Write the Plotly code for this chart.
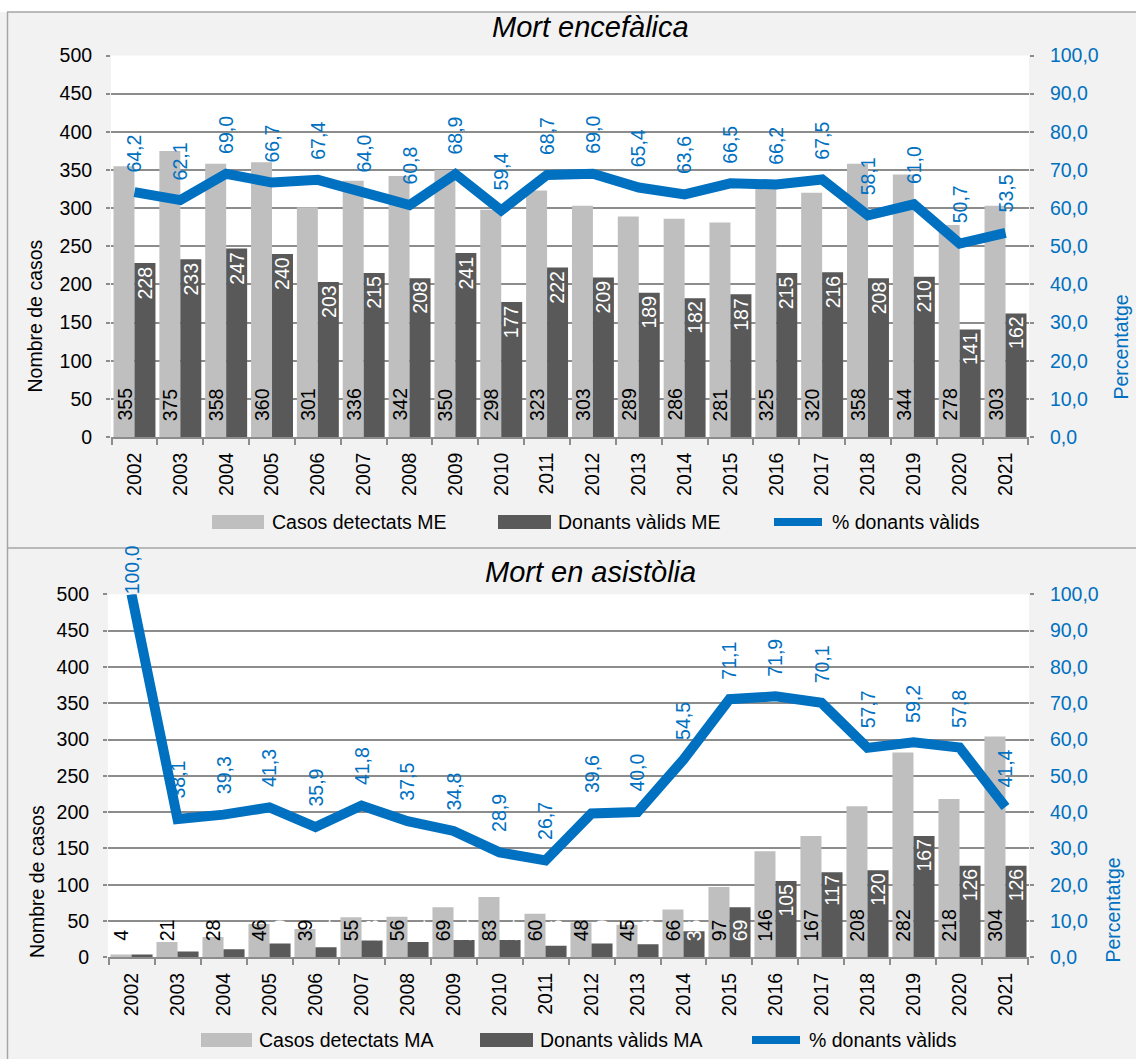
import plotly.graph_objects as go

# ---------------- data ----------------
years = [str(y) for y in range(2002, 2022)]

me_cases = [355, 375, 358, 360, 301, 336, 342, 350, 298, 323, 303, 289, 286, 281, 325, 320, 358, 344, 278, 303]
me_donors = [228, 233, 247, 240, 203, 215, 208, 241, 177, 222, 209, 189, 182, 187, 215, 216, 208, 210, 141, 162]
me_pct = [64.2, 62.1, 69.0, 66.7, 67.4, 64.0, 60.8, 68.9, 59.4, 68.7, 69.0, 65.4, 63.6, 66.5, 66.2, 67.5, 58.1, 61.0, 50.7, 53.5]

ma_cases = [4, 21, 28, 46, 39, 55, 56, 69, 83, 60, 48, 45, 66, 97, 146, 167, 208, 282, 218, 304]
ma_donors = [4, 8, 11, 19, 14, 23, 21, 24, 24, 16, 19, 18, 36, 69, 105, 117, 120, 167, 126, 126]
ma_pct = [100.0, 38.1, 39.3, 41.3, 35.9, 41.8, 37.5, 34.8, 28.9, 26.7, 39.6, 40.0, 54.5, 71.1, 71.9, 70.1, 57.7, 59.2, 57.8, 41.4]

left_ticks = [0, 50, 100, 150, 200, 250, 300, 350, 400, 450, 500]
right_ticks = [0, 10, 20, 30, 40, 50, 60, 70, 80, 90, 100]
right_ticktext = [f"{v:.1f}".replace(".", ",") for v in right_ticks]

titles = ["Mort encefàlica", "Mort en asistòlia"]
legend_names = [["Casos detectats ME", "Donants vàlids ME", "% donants vàlids"],
                ["Casos detectats MA", "Donants vàlids MA", "% donants vàlids"]]

# ---------------- style / layout helpers ----------------
W, H = 1136, 1059


def px(x):
    return x / W


def py(y):
    return 1 - y / H


LIGHT = "#bfbfbf"
DARK = "#595959"
BLUE = "#0070c0"
GRID = "#8c8c8c"
BG = "#f2f2f2"
FONT = "Liberation Sans, Arial, sans-serif"
FS = 19.5
BARGAP = 0.085

panels = [
    dict(cases=me_cases, donors=me_donors, pct=me_pct, xa="x", ya="y", ya2="y2",
         xdom=(111, 1029), ydom=(55.5, 437), title_y=27, leg_y=522,
         leg=[(212, 264, 270), (498, 551, 556), (770, 826, 830)],
         ltitle=(35, 395), rtitle=(1120, 402)),
    dict(cases=ma_cases, donors=ma_donors, pct=ma_pct, xa="x2", ya="y3", ya2="y4",
         xdom=(108, 1029), ydom=(594.3, 957.3), title_y=572, leg_y=1040,
         leg=[(201, 252, 257), (480, 533, 538), (748, 804, 807)],
         ltitle=(36.5, 960), rtitle=(1112, 965)),
]

fig = go.Figure()
annotations = []
shapes = []

# background strip at top and panel borders
shapes.append(dict(type="rect", xref="paper", yref="paper", x0=0, x1=1, y0=py(12), y1=1,
                   fillcolor="white", line=dict(width=0), layer="below"))
for yy in (12, 548):
    shapes.append(dict(type="line", xref="paper", yref="paper", x0=px(7), x1=1, y0=py(yy), y1=py(yy),
                       line=dict(color="#a6a6a6", width=1.5)))
shapes.append(dict(type="line", xref="paper", yref="paper", x0=px(7.5), x1=px(7.5), y0=0, y1=py(12),
                   line=dict(color="#a6a6a6", width=1.5)))

for k, p in enumerate(panels):
    xa, ya, ya2 = p["xa"], p["ya"], p["ya2"]
    fig.add_trace(go.Bar(x=years, y=p["cases"], name=legend_names[k][0], marker_color=LIGHT,
                         marker_line_width=0, xaxis=xa, yaxis=ya, showlegend=False))
    fig.add_trace(go.Bar(x=years, y=p["donors"], name=legend_names[k][1], marker_color=DARK,
                         marker_line_width=0, xaxis=xa, yaxis=ya, showlegend=False))
    fig.add_trace(go.Scatter(x=years, y=p["pct"], name=legend_names[k][2], mode="lines",
                             line=dict(color=BLUE, width=10), xaxis=xa, yaxis=ya2,
                             showlegend=False))

    plot_h = p["ydom"][1] - p["ydom"][0]
    ppu = plot_h / 500.0
    off = (1 - BARGAP) / 4.0

    # bar labels
    for i, (c, d) in enumerate(zip(p["cases"], p["donors"])):
        annotations.append(dict(x=i - off, y=0, xref=xa, yref=ya, text=str(c), showarrow=False,
                                textangle=-90, yanchor="bottom", xanchor="center", yshift=14,
                                font=dict(family=FONT, size=FS, color="black")))
        if d * ppu > 55:
            annotations.append(dict(x=i + off, y=d, xref=xa, yref=ya, text=str(d), showarrow=False,
                                    textangle=-90, yanchor="top", xanchor="center", yshift=-1,
                                    font=dict(family=FONT, size=FS, color="white")))
        else:
            annotations.append(dict(x=i + off, y=0, xref=xa, yref=ya, text=str(d), showarrow=False,
                                    textangle=-90, yanchor="bottom", xanchor="center", yshift=14,
                                    font=dict(family=FONT, size=FS, color="white")))
    # line labels
    for i, v in enumerate(p["pct"]):
        annotations.append(dict(x=i, y=v, xref=xa, yref=ya2, text=f"{v:.1f}".replace(".", ","),
                                showarrow=False, textangle=-90, yanchor="bottom", xanchor="center",
                                yshift=(18 if v < 90 else -2),
                                font=dict(family=FONT, size=FS, color=BLUE)))

    # titles
    annotations.append(dict(x=px(590), y=py(p["title_y"]), xref="paper", yref="paper",
                            text=f"<i>{titles[k]}</i>", showarrow=False, xanchor="center",
                            yanchor="middle", font=dict(family=FONT, size=29, color="black")))
    annotations.append(dict(x=px(p["ltitle"][0]), y=py(p["ltitle"][1]), xref="paper", yref="paper",
                            text="Nombre de casos", showarrow=False, textangle=-90,
                            xanchor="center", yanchor="bottom",
                            font=dict(family=FONT, size=FS, color="black")))
    annotations.append(dict(x=px(p["rtitle"][0]), y=py(p["rtitle"][1]), xref="paper", yref="paper",
                            text="Percentatge", showarrow=False, textangle=-90,
                            xanchor="center", yanchor="bottom",
                            font=dict(family=FONT, size=FS, color=BLUE)))

    # manual legend
    ly = p["leg_y"]
    (a0, a1, at), (b0, b1, bt), (c0, c1, ct) = p["leg"]
    shapes.append(dict(type="rect", xref="paper", yref="paper", x0=px(a0), x1=px(a1),
                       y0=py(ly + 7), y1=py(ly - 7), fillcolor=LIGHT, line=dict(width=0)))
    shapes.append(dict(type="rect", xref="paper", yref="paper", x0=px(b0), x1=px(b1),
                       y0=py(ly + 7), y1=py(ly - 7), fillcolor=DARK, line=dict(width=0)))
    shapes.append(dict(type="line", xref="paper", yref="paper", x0=px(c0 + 4), x1=px(c1 - 4),
                       y0=py(ly), y1=py(ly), line=dict(color=BLUE, width=8)))
    for (t0, name) in zip((at, bt, ct), legend_names[k]):
        annotations.append(dict(x=px(t0), y=py(ly), xref="paper", yref="paper", text=name,
                                showarrow=False, xanchor="left", yanchor="middle",
                                font=dict(family=FONT, size=FS, color="black")))

xaxis_common = dict(type="category", showgrid=False, showline=True, linecolor=GRID, linewidth=1.5,
                    ticks="outside", tickson="boundaries", ticklen=6, tickcolor=GRID, tickwidth=1.5,
                    tickangle=-90, tickfont=dict(family=FONT, size=FS, color="black"),
                    ticklabelstandoff=6, automargin=False, zeroline=False, fixedrange=True)
yleft_common = dict(range=[0, 500], tickvals=left_ticks, showgrid=True, gridcolor=GRID, gridwidth=2,
                    ticks="outside", ticklen=4, tickcolor=GRID, tickwidth=1.5, showline=False,
                    zeroline=False, tickfont=dict(family=FONT, size=FS, color="black"),
                    ticklabelstandoff=10, automargin=False, fixedrange=True)
yright_common = dict(range=[0, 100], tickvals=right_ticks, ticktext=right_ticktext, showgrid=False,
                     side="right", ticks="outside", ticklen=4, tickcolor=GRID, tickwidth=1.5,
                     showline=False, zeroline=False, tickfont=dict(family=FONT, size=FS, color=BLUE),
                     ticklabelstandoff=12, automargin=False, fixedrange=True)

p0, p1 = panels
fig.update_layout(
    width=W, height=H,
    margin=dict(l=0, r=0, t=0, b=0, pad=0),
    paper_bgcolor=BG, plot_bgcolor="white",
    barmode="group", bargap=BARGAP, bargroupgap=0,
    font=dict(family=FONT, size=FS, color="black"),
    showlegend=False,
    xaxis=dict(domain=[px(p0["xdom"][0]), px(p0["xdom"][1])], anchor="y", **xaxis_common),
    yaxis=dict(domain=[py(p0["ydom"][1]), py(p0["ydom"][0])], anchor="x", **yleft_common),
    yaxis2=dict(domain=[py(p0["ydom"][1]), py(p0["ydom"][0])], anchor="x", overlaying="y",
                **yright_common),
    xaxis2=dict(domain=[px(p1["xdom"][0]), px(p1["xdom"][1])], anchor="y3", **xaxis_common),
    yaxis3=dict(domain=[py(p1["ydom"][1]), py(p1["ydom"][0])], anchor="x2", **yleft_common),
    yaxis4=dict(domain=[py(p1["ydom"][1]), py(p1["ydom"][0])], anchor="x2", overlaying="y3",
                **yright_common),
    annotations=annotations,
    shapes=shapes,
)

fig.write_html("out.html", config={"displayModeBar": False},
               post_script="document.body.style.margin='0';")
